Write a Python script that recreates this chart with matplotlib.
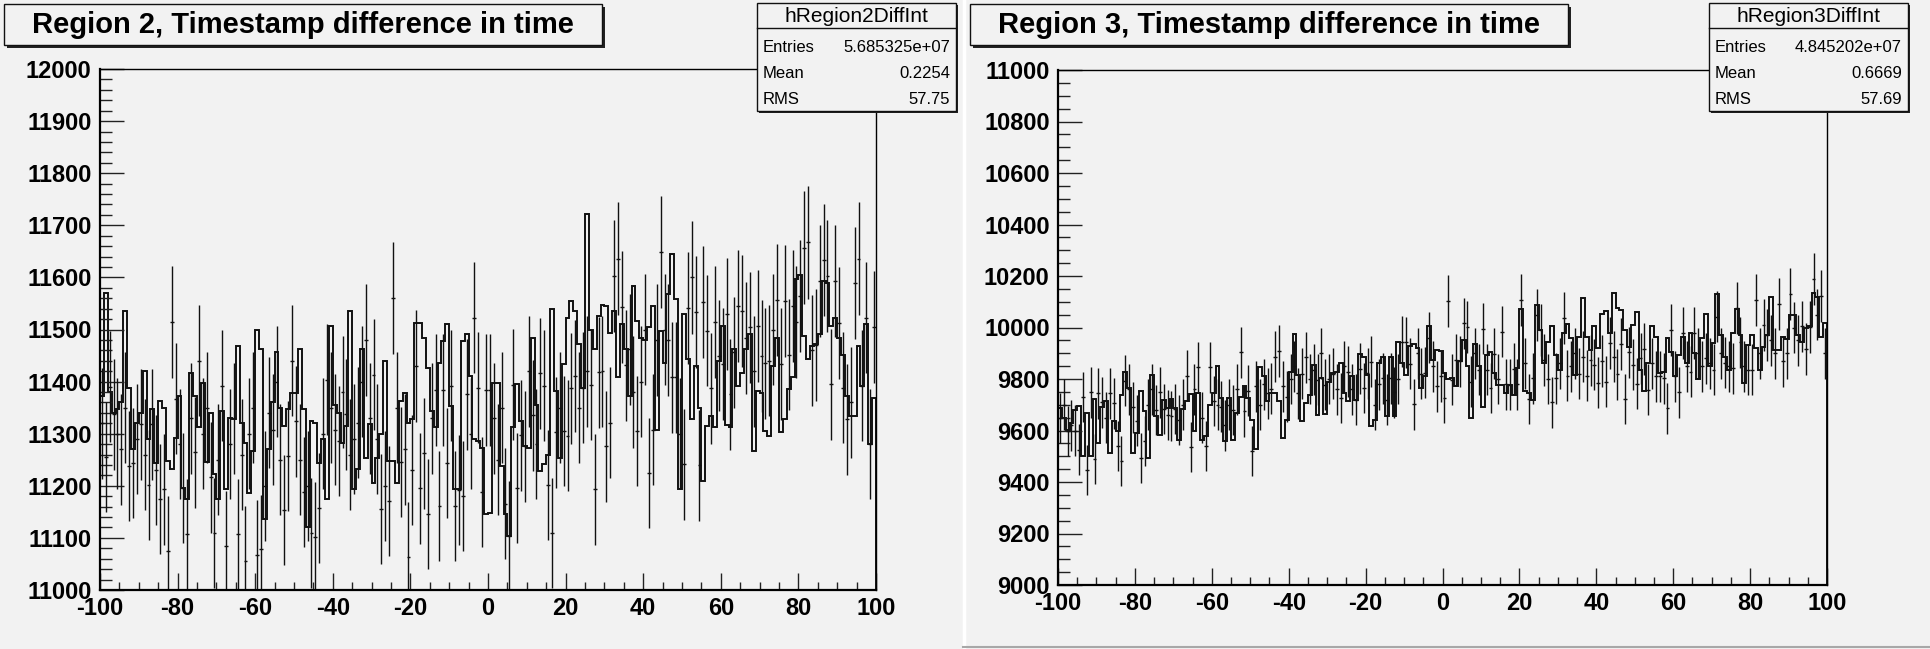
import numpy as np
import matplotlib.pyplot as plt
from matplotlib.patches import Rectangle
from matplotlib.ticker import MultipleLocator

W, H = 1931, 649
BG = '#f2f2f2'

# 200 bins of width 1 from -100 to 100
edges = np.arange(-100, 101)
centers = edges[:-1] + 0.5

# Region 2: step outline and error-bar points
r2_hist = [
    11372, 11571, 11380, 11340, 11347, 11360, 11536, 11388, 11270, 11321,
    11340, 11420, 11289, 11347, 11244, 11363, 11350, 11248, 11232, 11292,
    11372, 11196, 11174, 11416, 11372, 11312, 11398, 11246, 11340, 11222,
    11174, 11344, 11193, 11331, 11328, 11468, 11321, 11283, 11187, 11267,
    11500, 11462, 11137, 11270, 11360, 11456, 11350, 11315, 11347, 11379,
    11379, 11462, 11347, 11120, 11324, 11321, 11244, 11289, 11174, 11507,
    11356, 11340, 11283, 11315, 11536, 11193, 11232, 11462, 11254, 11318,
    11206, 11254, 11299, 11440, 11248, 11248, 11206, 11363, 11379, 11321,
    11328, 11513, 11513, 11484, 11427, 11344, 11312, 11436, 11478, 11510,
    11353, 11193, 11193, 11478, 11491, 11411, 11289, 11286, 11273, 11145,
    11148, 11398, 11398, 11238, 11145, 11103, 11312, 11395, 11324, 11276,
    11273, 11484, 11356, 11228, 11241, 11260, 11539, 11382, 11254, 11433,
    11523, 11555, 11536, 11472, 11388, 11721, 11500, 11463, 11526, 11547,
    11545, 11494, 11536, 11408, 11510, 11462, 11372, 11584, 11516, 11484,
    11480, 11504, 11545, 11308, 11497, 11436, 11568, 11644, 11558, 11193,
    11529, 11443, 11328, 11430, 11350, 11209, 11315, 11334, 11312, 11440,
    11507, 11316, 11312, 11463, 11392, 11416, 11462, 11491, 11267, 11382,
    11379, 11305, 11296, 11430, 11484, 11303, 11328, 11385, 11408, 11596,
    11604, 11488, 11443, 11468, 11472, 11491, 11593, 11590, 11507, 11523,
    11484, 11452, 11372, 11334, 11334, 11468, 11392, 11510, 11280, 11369,
]
r2_pts = [
    11320, 11255, 11390, 11337, 11300, 11270, 11350, 11238, 11244, 11290,
    11318, 11260, 11201, 11318, 11230, 11174, 11193, 11075, 11514, 11367,
    11280, 11196, 11107, 11330, 11264, 11440, 11300, 11350, 11216, 11110,
    11250, 11392, 11084, 11280, 11330, 11107, 11260, 11056, 11300, 11350,
    11068, 11078, 11200, 11340, 11308, 11400, 11250, 11154, 11257, 11440,
    11324, 11250, 11188, 11200, 11110, 11102, 11158, 11300, 11404, 11350,
    11308, 11286, 11380, 11337, 11260, 11290, 11321, 11400, 11480, 11330,
    11413, 11290, 11156, 11200, 11171, 11560, 11350, 11246, 11270, 11064,
    11230, 11430, 11195, 11262, 11145, 11330, 11384, 11161, 11384, 11244,
    11392, 11161, 11192, 11180, 11376, 11300, 11523, 11388, 11188, 11384,
    11384, 11330, 11250, 11350, 11166, 11103, 11394, 11196, 11297, 11276,
    11420, 11335, 11280, 11416, 11392, 11201, 11110, 11303, 11350, 11305,
    11296, 11387, 11411, 11350, 11388, 11420, 11394, 11193, 11418, 11420,
    11276, 11321, 11603, 11636, 11544, 11431, 11462, 11380, 11305, 11400,
    11500, 11224, 11308, 11480, 11649, 11500, 11480, 11408, 11408, 11300,
    11241, 11541, 11600, 11534, 11239, 11552, 11498, 11387, 11514, 11450,
    11434, 11530, 11376, 11456, 11545, 11536, 11484, 11504, 11420, 11507,
    11449, 11435, 11440, 11500, 11557, 11434, 11555, 11452, 11546, 11514,
    11564, 11657, 11667, 11460, 11470, 11593, 11633, 11603, 11395, 11593,
    11513, 11388, 11328, 11360, 11590, 11636, 11392, 11523, 11280, 11505,
]

# Region 3
r3_hist = [
    9687, 9648, 9603, 9629, 9681, 9696, 9500, 9668, 9500, 9722,
    9551, 9693, 9713, 9513, 9635, 9599, 9739, 9829, 9765, 9513,
    9590, 9755, 9674, 9493, 9816, 9655, 9584, 9719, 9687, 9723,
    9687, 9564, 9684, 9713, 9743, 9600, 9745, 9564, 9577, 9700,
    9745, 9852, 9726, 9558, 9726, 9564, 9668, 9732,
    9771, 9726, 9642, 9528, 9846, 9810, 9713, 9745, 9745, 9713,
    9571, 9642, 9829, 9975, 9816, 9635, 9706, 9739, 9855, 9661,
    9803, 9664, 9790, 9823, 9829, 9864, 9745, 9713, 9810, 9717,
    9898, 9887, 9816, 9616, 9642, 9861, 9887, 9655, 9885, 9655,
    9945, 9861, 9816, 9929, 9936, 9920, 9765, 9810, 10004, 9874,
    9911,
    9907, 9823, 9799, 9803, 9774, 9868, 9952, 9851, 9648, 9936,
    9849, 9691, 9894, 9903, 9823, 9778, 9778, 9745, 9778, 9739,
    9842, 10071, 9752, 9745, 9719, 10088, 9991, 9861, 9945, 10004,
    9894, 9836, 9978, 10014, 9958, 9816, 9965, 10113, 9965, 9911,
    10006, 9920, 10053, 10066, 9980, 10135, 10075, 10068, 9991, 9926,
    10010, 10062, 9836, 9752, 9861, 10006, 9965, 9823, 9829, 9958,
    9903, 9810, 9894, 9965, 9861, 9978, 9900, 9799, 9958, 10053,
    9849, 9939, 10130, 9971, 9887, 9836, 9978, 10071, 9971, 9784,
    9932, 9971, 9920, 9836, 9923, 9971, 10117, 9913, 9913, 9965,
    9954, 10049, 10049, 9971, 9942, 9997, 10006, 10135, 10120, 9965,
    10017,
]
r3_pts = [
    9648, 9700, 9597, 9620, 9600, 9526, 9730, 9448, 9749, 9489,
    9745, 9710, 9650, 9745, 9706, 9541, 9483, 9793, 9760, 9690,
    9638, 9493, 9560, 9700, 9760, 9680, 9749, 9683, 9660, 9657,
    9684, 9640, 9700, 9813, 9535, 9760, 9846, 9650, 9541, 9846,
    9715, 9700, 9693, 9620, 9700, 9680, 9760, 9904,
    9674, 9754, 9519, 9771, 9700, 9780, 9745, 9763, 9887, 9909,
    9771, 9732, 9800, 9850, 9745, 9820, 9885, 9800, 9836, 9797,
    9900, 9777, 9800, 9820, 9760, 9726, 9850, 9829, 9760, 9719,
    9840, 9765, 9823, 9867, 9700, 9780, 9803, 9720, 9802, 9749,
    9800, 9945, 9942, 9860, 9701, 9900, 9820, 9825, 9961, 9850,
    9771,
    9810, 9726, 10103, 9797, 9874, 9868, 10016, 10001, 9790, 9900,
    9836, 9996, 9836, 9765, 9898, 9800, 9984, 9780, 9777, 9840,
    9780, 10107, 9861, 9722, 9802, 10049, 9991, 9874, 9800, 9710,
    9803, 9861, 10036, 9812, 9849, 9900, 9820, 9887, 9812, 9872,
    9855, 9786, 9870, 9790, 9940, 9887, 9819, 9936, 9722, 9904,
    9855,
    9781, 9880, 9916, 9758, 9861, 9810, 9810, 9803, 9686, 9991,
    9810, 9749, 9978, 9850, 9829, 9978, 9900, 9850, 9880, 9861,
    9836, 10042, 9900, 9864, 9850, 9842, 10075, 9942, 9850, 9836,
    9836, 10107, 9900, 10010, 9971, 9950, 9900, 10091, 9868, 9900,
    10130, 10000, 9950, 10004, 9916, 10001, 10188, 10050, 10122, 9900,
]

titles = ['Region 2, Timestamp difference in time', 'Region 3, Timestamp difference in time']
stat_names = ['hRegion2DiffInt', 'hRegion3DiffInt']
stat_entries = ['5.685325e+07', '4.845202e+07']
stat_mean = ['0.2254', '0.6669']
stat_rms = ['57.75', '57.69']

plt.rcParams['font.family'] = ['Liberation Sans', 'DejaVu Sans']
plt.rcParams['axes.unicode_minus'] = False  # ROOT prints a plain hyphen

fig = plt.figure(figsize=(W / 100, H / 100), dpi=100)
fig.patch.set_facecolor(BG)


def box(x, y, w, h):
    # pixel box, origin top-left -> figure fractions
    return [x / W, 1 - (y + h) / H, w / W, h / H]


def fx(x):
    return x / W


def fy(y):
    return 1 - y / H


def draw_hist(rect, hist, pts, ylim, major, minor):
    ax = fig.add_axes(rect)
    ax.set_facecolor(BG)
    pts = np.asarray(pts, float)
    ax.stairs(hist, edges, color='#111111', lw=1.4)
    ax.errorbar(centers, pts, yerr=np.sqrt(pts), fmt='none', ecolor='#111111', elinewidth=1.0)
    ax.hlines(pts, centers - 0.5, centers + 0.5, color='#111111', lw=1.0)
    ax.set_xlim(-100, 100)
    ax.set_ylim(*ylim)
    ax.xaxis.set_major_locator(MultipleLocator(20))
    ax.xaxis.set_minor_locator(MultipleLocator(5))
    ax.yaxis.set_major_locator(MultipleLocator(major))
    ax.yaxis.set_minor_locator(MultipleLocator(minor))
    ax.tick_params(which='both', direction='in', top=False, right=False,
                   labelsize=17, width=1.0, color='#222222')
    ax.tick_params(which='major', axis='x', length=12, pad=5)
    ax.tick_params(which='minor', axis='x', length=6)
    ax.tick_params(which='major', axis='y', length=17, pad=6)
    ax.tick_params(which='minor', axis='y', length=8.5)
    for lab in ax.get_xticklabels() + ax.get_yticklabels():
        lab.set_fontweight('bold')
    for side in ['top', 'right']:
        ax.spines[side].set_linewidth(1.0)
    for side in ['left', 'bottom']:
        ax.spines[side].set_linewidth(1.6)
    return ax


def shadow_box(x, y, w, h, d=3):
    fig.patches.append(Rectangle((fx(x + d), fy(y + h + d)), w / W, h / H,
                                 transform=fig.transFigure, facecolor='#222222',
                                 edgecolor='none', zorder=5))
    fig.patches.append(Rectangle((fx(x), fy(y + h)), w / W, h / H,
                                 transform=fig.transFigure, facecolor=BG,
                                 edgecolor='#111111', lw=1.0, zorder=6))


draw_hist(box(100, 69, 776, 521), r2_hist, r2_pts, (11000, 12000), 100, 20)
draw_hist(box(1058, 70, 769, 515), r3_hist, r3_pts, (9000, 11000), 200, 50)

# pad separator and bottom edge of the right pad
fig.add_artist(plt.Line2D([fx(964.5), fx(964.5)], [0, 1], transform=fig.transFigure,
                          color='white', lw=2.5))
fig.add_artist(plt.Line2D([fx(963), 1], [fy(647), fy(647)], transform=fig.transFigure,
                          color='#a8a8a8', lw=1.5))

for i, x0 in enumerate([4, 970]):
    # title box
    shadow_box(x0, 4, 598, 41)
    fig.text(fx(x0 + 299), fy(25), titles[i], ha='center', va='center',
             fontsize=21, fontweight='bold', zorder=7)

for i, x0 in enumerate([757, 1709]):
    # stats box
    bw = 199
    shadow_box(x0, 3, bw, 108, d=2)
    fig.add_artist(plt.Line2D([fx(x0), fx(x0 + bw)], [fy(28), fy(28)],
                              transform=fig.transFigure, color='#111111', lw=1.0, zorder=7))
    fig.text(fx(x0 + bw / 2), fy(16), stat_names[i], ha='center', va='center',
             fontsize=15, zorder=7)
    rows = [('Entries', stat_entries[i]), ('Mean', stat_mean[i]), ('RMS', stat_rms[i])]
    for j, (k, v) in enumerate(rows):
        yy = fy(48 + j * 26)
        fig.text(fx(x0 + 6), yy, k, ha='left', va='center', fontsize=12, zorder=7)
        fig.text(fx(x0 + bw - 6), yy, v, ha='right', va='center', fontsize=12, zorder=7)

fig.savefig('out.png', dpi=100, facecolor=BG)
